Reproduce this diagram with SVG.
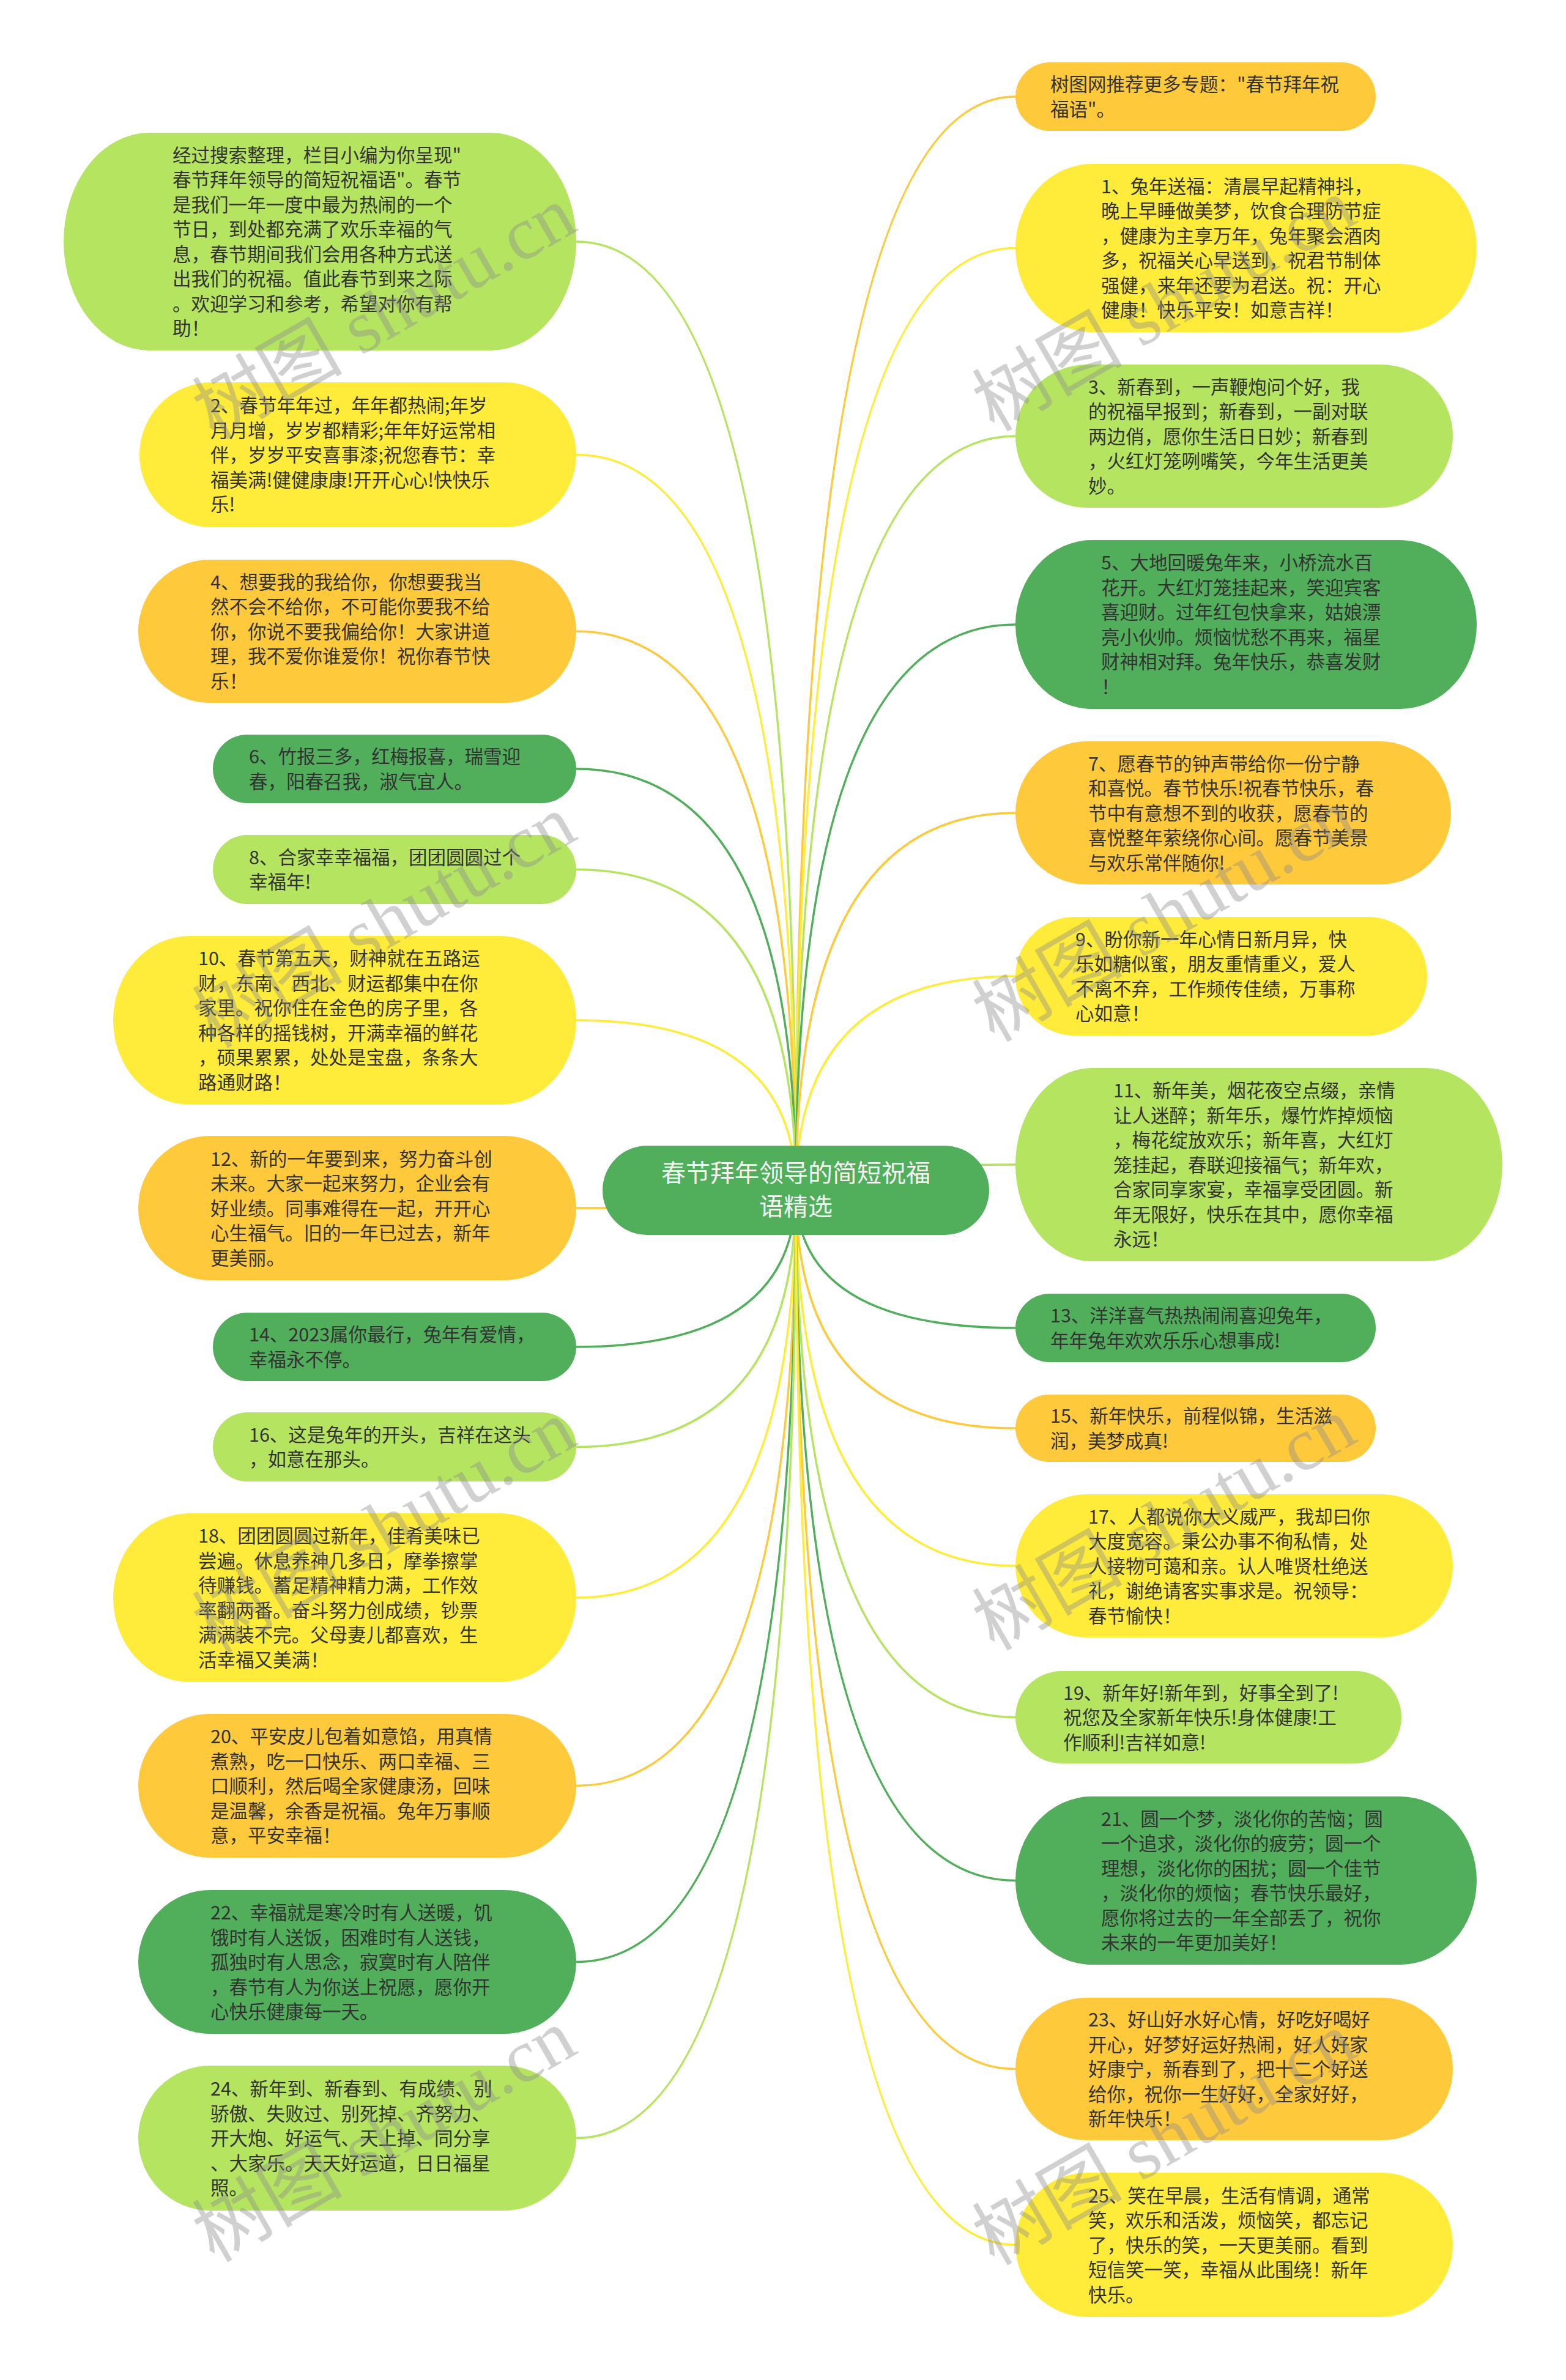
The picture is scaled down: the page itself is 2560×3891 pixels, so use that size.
<svg xmlns="http://www.w3.org/2000/svg" width="2560" height="3891" viewBox="0 0 2560 3891">
<style>
.lg{fill:#b5e461}.yl{fill:#ffec3a}.or{fill:#ffc93c}.dg{fill:#51ae5b}
.clg{stroke:#b5e461}.cyl{stroke:#ffec3a}.cor{stroke:#ffc93c}.cdg{stroke:#51ae5b}
#connectors path{fill:none;stroke-width:3.5}
.t{font-family:"Noto Sans CJK SC","Noto Sans",sans-serif;font-size:30.5px;fill:#333}
.ct{font-family:"Noto Sans CJK SC","Noto Sans",sans-serif;font-size:40px;fill:#f4f4f4;text-anchor:middle}
.wm{font-family:"Liberation Serif","Noto Sans CJK SC",serif;font-size:123px;fill:#8c8c8c;opacity:0.4}
</style>
<rect width="2560" height="3891" fill="#ffffff"/>
<g id="connectors">
<path class="clg" d="M1301 1946 Q1301 395 942 395"/>
<path class="cyl" d="M1301 1946 Q1301 743.5 942 743.5"/>
<path class="cor" d="M1301 1946 Q1301 1032 942 1032"/>
<path class="cdg" d="M1301 1946 Q1301 1257 942 1257"/>
<path class="clg" d="M1301 1946 Q1301 1421.5 942 1421.5"/>
<path class="cyl" d="M1301 1946 Q1301 1668 942 1668"/>
<path class="cor" d="M1301 1946 Q1301 1975 942 1975"/>
<path class="cdg" d="M1301 1946 Q1301 2202 942 2202"/>
<path class="clg" d="M1301 1946 Q1301 2365.5 942 2365.5"/>
<path class="cyl" d="M1301 1946 Q1301 2612 942 2612"/>
<path class="cor" d="M1301 1946 Q1301 2919.5 942 2919.5"/>
<path class="cdg" d="M1301 1946 Q1301 3207.5 942 3207.5"/>
<path class="clg" d="M1301 1946 Q1301 3495.5 942 3495.5"/>
<path class="cor" d="M1301 1946 Q1301 158 1660 158"/>
<path class="cyl" d="M1301 1946 Q1301 405.5 1660 405.5"/>
<path class="clg" d="M1301 1946 Q1301 713 1660 713"/>
<path class="cdg" d="M1301 1946 Q1301 1021 1660 1021"/>
<path class="cor" d="M1301 1946 Q1301 1329 1660 1329"/>
<path class="cyl" d="M1301 1946 Q1301 1596 1660 1596"/>
<path class="clg" d="M1301 1946 Q1301 1904 1660 1904"/>
<path class="cdg" d="M1301 1946 Q1301 2171 1660 2171"/>
<path class="cor" d="M1301 1946 Q1301 2335 1660 2335"/>
<path class="cyl" d="M1301 1946 Q1301 2560 1660 2560"/>
<path class="clg" d="M1301 1946 Q1301 2807.5 1660 2807.5"/>
<path class="cdg" d="M1301 1946 Q1301 3074.5 1660 3074.5"/>
<path class="cor" d="M1301 1946 Q1301 3382.5 1660 3382.5"/>
<path class="cyl" d="M1301 1946 Q1301 3670 1660 3670"/>
</g>

<g id="node-intro"><rect class="lg" x="104" y="217" width="838" height="356" rx="140" ry="178"/>
<text class="t" x="282" y="264.75"><tspan x="282">经过搜索整理，栏目小编为你呈现"</tspan><tspan x="282" dy="40.5">春节拜年领导的简短祝福语"。春节</tspan><tspan x="282" dy="40.5">是我们一年一度中最为热闹的一个</tspan><tspan x="282" dy="40.5">节日，到处都充满了欢乐幸福的气</tspan><tspan x="282" dy="40.5">息，春节期间我们会用各种方式送</tspan><tspan x="282" dy="40.5">出我们的祝福。值此春节到来之际</tspan><tspan x="282" dy="40.5">。欢迎学习和参考，希望对你有帮</tspan><tspan x="282" dy="40.5">助！</tspan></text></g>

<g id="node-2"><rect class="yl" x="228" y="625" width="714" height="237" rx="118" ry="118.5"/>
<text class="t" x="344" y="674"><tspan x="344">2、春节年年过，年年都热闹;年岁</tspan><tspan x="344" dy="40.5">月月增，岁岁都精彩;年年好运常相</tspan><tspan x="344" dy="40.5">伴，岁岁平安喜事漆;祝您春节：幸</tspan><tspan x="344" dy="40.5">福美满!健健康康!开开心心!快快乐</tspan><tspan x="344" dy="40.5">乐!</tspan></text></g>

<g id="node-4"><rect class="or" x="226" y="915" width="716" height="234" rx="117" ry="117"/>
<text class="t" x="344" y="962.5"><tspan x="344">4、想要我的我给你，你想要我当</tspan><tspan x="344" dy="40.5">然不会不给你，不可能你要我不给</tspan><tspan x="344" dy="40.5">你，你说不要我偏给你！大家讲道</tspan><tspan x="344" dy="40.5">理，我不爱你谁爱你！祝你春节快</tspan><tspan x="344" dy="40.5">乐！</tspan></text></g>

<g id="node-6"><rect class="dg" x="348" y="1201" width="594" height="112" rx="56" ry="56"/>
<text class="t" x="407" y="1248.25"><tspan x="407">6、竹报三多，红梅报喜，瑞雪迎</tspan><tspan x="407" dy="40.5">春，阳春召我，淑气宜人。</tspan></text></g>

<g id="node-8"><rect class="lg" x="348" y="1365" width="594" height="113" rx="56.5" ry="56.5"/>
<text class="t" x="407" y="1412.75"><tspan x="407">8、合家幸幸福福，团团圆圆过个</tspan><tspan x="407" dy="40.5">幸福年!</tspan></text></g>

<g id="node-10"><rect class="yl" x="185" y="1530" width="757" height="276" rx="125" ry="138"/>
<text class="t" x="324" y="1578.25"><tspan x="324">10、春节第五天，财神就在五路运</tspan><tspan x="324" dy="40.5">财，东南、西北、财运都集中在你</tspan><tspan x="324" dy="40.5">家里。祝你住在金色的房子里，各</tspan><tspan x="324" dy="40.5">种各样的摇钱树，开满幸福的鲜花</tspan><tspan x="324" dy="40.5">，硕果累累，处处是宝盘，条条大</tspan><tspan x="324" dy="40.5">路通财路！</tspan></text></g>

<g id="node-12"><rect class="or" x="226" y="1857" width="716" height="236" rx="118" ry="118"/>
<text class="t" x="344" y="1905.5"><tspan x="344">12、新的一年要到来，努力奋斗创</tspan><tspan x="344" dy="40.5">未来。大家一起来努力，企业会有</tspan><tspan x="344" dy="40.5">好业绩。同事难得在一起，开开心</tspan><tspan x="344" dy="40.5">心生福气。旧的一年已过去，新年</tspan><tspan x="344" dy="40.5">更美丽。</tspan></text></g>

<g id="node-14"><rect class="dg" x="348" y="2146" width="594" height="112" rx="56" ry="56"/>
<text class="t" x="407" y="2193.25"><tspan x="407">14、2023属你最行，兔年有爱情，</tspan><tspan x="407" dy="40.5">幸福永不停。</tspan></text></g>

<g id="node-16"><rect class="lg" x="348" y="2309" width="594" height="113" rx="56.5" ry="56.5"/>
<text class="t" x="407" y="2356.75"><tspan x="407">16、这是兔年的开头，吉祥在这头</tspan><tspan x="407" dy="40.5">，如意在那头。</tspan></text></g>

<g id="node-18"><rect class="yl" x="185" y="2474" width="757" height="276" rx="125" ry="138"/>
<text class="t" x="324" y="2522.25"><tspan x="324">18、团团圆圆过新年，佳肴美味已</tspan><tspan x="324" dy="40.5">尝遍。休息养神几多日，摩拳擦掌</tspan><tspan x="324" dy="40.5">待赚钱。蓄足精神精力满，工作效</tspan><tspan x="324" dy="40.5">率翻两番。奋斗努力创成绩，钞票</tspan><tspan x="324" dy="40.5">满满装不完。父母妻儿都喜欢，生</tspan><tspan x="324" dy="40.5">活幸福又美满！</tspan></text></g>

<g id="node-20"><rect class="or" x="226" y="2802" width="716" height="235" rx="117.5" ry="117.5"/>
<text class="t" x="344" y="2850"><tspan x="344">20、平安皮儿包着如意馅，用真情</tspan><tspan x="344" dy="40.5">煮熟，吃一口快乐、两口幸福、三</tspan><tspan x="344" dy="40.5">口顺利，然后喝全家健康汤，回味</tspan><tspan x="344" dy="40.5">是温馨，余香是祝福。兔年万事顺</tspan><tspan x="344" dy="40.5">意，平安幸福！</tspan></text></g>

<g id="node-22"><rect class="dg" x="226" y="3090" width="716" height="235" rx="117.5" ry="117.5"/>
<text class="t" x="344" y="3138"><tspan x="344">22、幸福就是寒冷时有人送暖，饥</tspan><tspan x="344" dy="40.5">饿时有人送饭，困难时有人送钱，</tspan><tspan x="344" dy="40.5">孤独时有人思念，寂寞时有人陪伴</tspan><tspan x="344" dy="40.5">，春节有人为你送上祝愿，愿你开</tspan><tspan x="344" dy="40.5">心快乐健康每一天。</tspan></text></g>

<g id="node-24"><rect class="lg" x="226" y="3377" width="716" height="237" rx="118" ry="118.5"/>
<text class="t" x="344" y="3426"><tspan x="344">24、新年到、新春到、有成绩、别</tspan><tspan x="344" dy="40.5">骄傲、失败过、别死掉、齐努力、</tspan><tspan x="344" dy="40.5">开大炮、好运气、天上掉、同分享</tspan><tspan x="344" dy="40.5">、大家乐。天天好运道，日日福星</tspan><tspan x="344" dy="40.5">照。</tspan></text></g>

<g id="node-r0"><rect class="or" x="1660" y="102" width="589" height="112" rx="56" ry="56"/>
<text class="t" x="1717" y="149.25"><tspan x="1717">树图网推荐更多专题："春节拜年祝</tspan><tspan x="1717" dy="40.5">福语"。</tspan></text></g>

<g id="node-1"><rect class="yl" x="1660" y="268" width="754" height="275" rx="125" ry="137.5"/>
<text class="t" x="1800" y="315.75"><tspan x="1800">1、兔年送福：清晨早起精神抖，</tspan><tspan x="1800" dy="40.5">晚上早睡做美梦，饮食合理防节症</tspan><tspan x="1800" dy="40.5">，健康为主享万年，兔年聚会酒肉</tspan><tspan x="1800" dy="40.5">多，祝福关心早送到，祝君节制体</tspan><tspan x="1800" dy="40.5">强健，来年还要为君送。祝：开心</tspan><tspan x="1800" dy="40.5">健康！快乐平安！如意吉祥！</tspan></text></g>

<g id="node-3"><rect class="lg" x="1660" y="596" width="715" height="234" rx="117" ry="117"/>
<text class="t" x="1779" y="643.5"><tspan x="1779">3、新春到，一声鞭炮问个好，我</tspan><tspan x="1779" dy="40.5">的祝福早报到；新春到，一副对联</tspan><tspan x="1779" dy="40.5">两边俏，愿你生活日日妙；新春到</tspan><tspan x="1779" dy="40.5">，火红灯笼咧嘴笑，今年生活更美</tspan><tspan x="1779" dy="40.5">妙。</tspan></text></g>

<g id="node-5"><rect class="dg" x="1660" y="883" width="754" height="276" rx="125" ry="138"/>
<text class="t" x="1800" y="931.25"><tspan x="1800">5、大地回暖兔年来，小桥流水百</tspan><tspan x="1800" dy="40.5">花开。大红灯笼挂起来，笑迎宾客</tspan><tspan x="1800" dy="40.5">喜迎财。过年红包快拿来，姑娘漂</tspan><tspan x="1800" dy="40.5">亮小伙帅。烦恼忧愁不再来，福星</tspan><tspan x="1800" dy="40.5">财神相对拜。兔年快乐，恭喜发财</tspan><tspan x="1800" dy="40.5">！</tspan></text></g>

<g id="node-7"><rect class="or" x="1660" y="1212" width="712" height="234" rx="117" ry="117"/>
<text class="t" x="1779" y="1259.5"><tspan x="1779">7、愿春节的钟声带给你一份宁静</tspan><tspan x="1779" dy="40.5">和喜悦。春节快乐!祝春节快乐，春</tspan><tspan x="1779" dy="40.5">节中有意想不到的收获，愿春节的</tspan><tspan x="1779" dy="40.5">喜悦整年萦绕你心间。愿春节美景</tspan><tspan x="1779" dy="40.5">与欢乐常伴随你!</tspan></text></g>

<g id="node-9"><rect class="yl" x="1660" y="1499" width="673" height="194" rx="97" ry="97"/>
<text class="t" x="1758" y="1546.75"><tspan x="1758">9、盼你新一年心情日新月异，快</tspan><tspan x="1758" dy="40.5">乐如糖似蜜，朋友重情重义，爱人</tspan><tspan x="1758" dy="40.5">不离不弃，工作频传佳绩，万事称</tspan><tspan x="1758" dy="40.5">心如意！</tspan></text></g>

<g id="node-11"><rect class="lg" x="1660" y="1746" width="796" height="316" rx="125" ry="158"/>
<text class="t" x="1820" y="1794"><tspan x="1820">11、新年美，烟花夜空点缀，亲情</tspan><tspan x="1820" dy="40.5">让人迷醉；新年乐，爆竹炸掉烦恼</tspan><tspan x="1820" dy="40.5">，梅花绽放欢乐；新年喜，大红灯</tspan><tspan x="1820" dy="40.5">笼挂起，春联迎接福气；新年欢，</tspan><tspan x="1820" dy="40.5">合家同享家宴，幸福享受团圆。新</tspan><tspan x="1820" dy="40.5">年无限好，快乐在其中，愿你幸福</tspan><tspan x="1820" dy="40.5">永远！</tspan></text></g>

<g id="node-13"><rect class="dg" x="1660" y="2115" width="589" height="112" rx="56" ry="56"/>
<text class="t" x="1717" y="2162.25"><tspan x="1717">13、洋洋喜气热热闹闹喜迎兔年，</tspan><tspan x="1717" dy="40.5">年年兔年欢欢乐乐心想事成!</tspan></text></g>

<g id="node-15"><rect class="or" x="1660" y="2280" width="589" height="110" rx="55" ry="55"/>
<text class="t" x="1717" y="2326.25"><tspan x="1717">15、新年快乐，前程似锦，生活滋</tspan><tspan x="1717" dy="40.5">润，美梦成真!</tspan></text></g>

<g id="node-17"><rect class="yl" x="1660" y="2443" width="715" height="234" rx="117" ry="117"/>
<text class="t" x="1779" y="2490.5"><tspan x="1779">17、人都说你大义威严，我却曰你</tspan><tspan x="1779" dy="40.5">大度宽容。秉公办事不徇私情，处</tspan><tspan x="1779" dy="40.5">人接物可蔼和亲。认人唯贤杜绝送</tspan><tspan x="1779" dy="40.5">礼，谢绝请客实事求是。祝领导：</tspan><tspan x="1779" dy="40.5">春节愉快！</tspan></text></g>

<g id="node-19"><rect class="lg" x="1660" y="2732" width="631" height="151" rx="75.5" ry="75.5"/>
<text class="t" x="1738" y="2778.5"><tspan x="1738">19、新年好!新年到，好事全到了!</tspan><tspan x="1738" dy="40.5">祝您及全家新年快乐!身体健康!工</tspan><tspan x="1738" dy="40.5">作顺利!吉祥如意!</tspan></text></g>

<g id="node-21"><rect class="dg" x="1660" y="2937" width="754" height="275" rx="125" ry="137.5"/>
<text class="t" x="1800" y="2984.75"><tspan x="1800">21、圆一个梦，淡化你的苦恼；圆</tspan><tspan x="1800" dy="40.5">一个追求，淡化你的疲劳；圆一个</tspan><tspan x="1800" dy="40.5">理想，淡化你的困扰；圆一个佳节</tspan><tspan x="1800" dy="40.5">，淡化你的烦恼；春节快乐最好，</tspan><tspan x="1800" dy="40.5">愿你将过去的一年全部丢了，祝你</tspan><tspan x="1800" dy="40.5">未来的一年更加美好！</tspan></text></g>

<g id="node-23"><rect class="or" x="1660" y="3266" width="715" height="233" rx="116.5" ry="116.5"/>
<text class="t" x="1779" y="3313"><tspan x="1779">23、好山好水好心情，好吃好喝好</tspan><tspan x="1779" dy="40.5">开心，好梦好运好热闹，好人好家</tspan><tspan x="1779" dy="40.5">好康宁，新春到了，把十二个好送</tspan><tspan x="1779" dy="40.5">给你，祝你一生好好，全家好好，</tspan><tspan x="1779" dy="40.5">新年快乐！</tspan></text></g>

<g id="node-25"><rect class="yl" x="1660" y="3552" width="715" height="236" rx="118" ry="118"/>
<text class="t" x="1779" y="3600.5"><tspan x="1779">25、笑在早晨，生活有情调，通常</tspan><tspan x="1779" dy="40.5">笑，欢乐和活泼，烦恼笑，都忘记</tspan><tspan x="1779" dy="40.5">了，快乐的笑，一天更美丽。看到</tspan><tspan x="1779" dy="40.5">短信笑一笑，幸福从此围绕！新年</tspan><tspan x="1779" dy="40.5">快乐。</tspan></text></g>

<g id="node-center"><rect class="dg" x="985" y="1873" width="632" height="146" rx="73" ry="73"/>
<text class="ct" x="1301" y="1932"><tspan x="1301">春节拜年领导的简短祝福</tspan><tspan x="1301" dy="55">语精选</tspan></text></g>

<g id="watermark">
<text class="wm" transform="translate(350 720) rotate(-30)">树图 shutu.cn</text>
<text class="wm" transform="translate(350 1715) rotate(-30)">树图 shutu.cn</text>
<text class="wm" transform="translate(350 2705) rotate(-30)">树图 shutu.cn</text>
<text class="wm" transform="translate(350 3700) rotate(-30)">树图 shutu.cn</text>
<text class="wm" transform="translate(1625 707) rotate(-30)">树图 shutu.cn</text>
<text class="wm" transform="translate(1625 1705) rotate(-30)">树图 shutu.cn</text>
<text class="wm" transform="translate(1625 2700) rotate(-30)">树图 shutu.cn</text>
<text class="wm" transform="translate(1625 3705) rotate(-30)">树图 shutu.cn</text>
</g>
</svg>
